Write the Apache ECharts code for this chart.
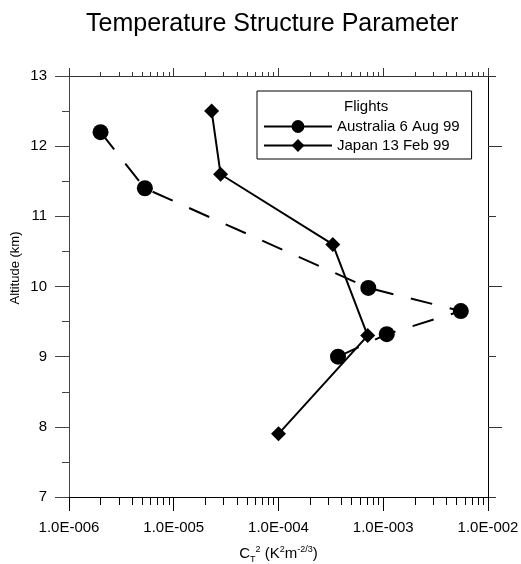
<!DOCTYPE html>
<html>
<head>
<meta charset="utf-8">
<script src="https://cdn.jsdelivr.net/npm/echarts@6/dist/echarts.min.js"></script>
<style>
html,body{margin:0;padding:0;background:#fff;}
#chart{width:521px;height:564px;}
</style>
</head>
<body>
<div id="chart"></div>
<script>
// ---- data ----
const ausX = [2.0e-6, 5.3e-6, 7.2e-4, 5.5e-3, 1.08e-3, 3.7e-4];
const ausY = [12.2, 11.4, 9.98, 9.65, 9.32, 9.0];
const japX = [2.3e-5, 2.8e-5, 3.3e-4, 7.1e-4, 1.0e-4];
const japY = [12.5, 11.6, 10.6, 9.3, 7.9];
const xTickValues = [1e-6, 1e-5, 1e-4, 1e-3, 1e-2];
const xTickLabels = ['1.0E-006', '1.0E-005', '1.0E-004', '1.0E-003', '1.0E-002'];
const yTickLabels = ['7', '8', '9', '10', '11', '12', '13'];
const rightMajorTicks = [8, 10, 12];
const seriesNames = ['Australia 6 Aug 99', 'Japan 13 Feb 99'];

const xMinor = [];
for (let d = 0; d < xTickValues.length - 1; d++) {
  for (let m = 2; m <= 9; m++) xMinor.push(xTickValues[d] * m);
}

const FONT = '"Liberation Sans", Arial, Helvetica, sans-serif';
const chart = echarts.init(document.getElementById('chart'), null, {renderer: 'canvas'});
const grid = {left: 69, right: 33, top: 76, bottom: 67, containLabel: false, outerBoundsMode: 'none'};

const baseLog = {type: 'log', logBase: 10, min: 1e-6, max: 1e-2, gridIndex: 0, splitLine: {show: false}};

const option = {
  animation: false,
  backgroundColor: '#fff',
  title: {
    text: 'Temperature Structure Parameter',
    left: 81, top: 7,
    textStyle: {fontFamily: FONT, fontSize: 25, fontWeight: 'normal', color: '#000'}
  },
  grid: grid,
  legend: {
    orient: 'vertical',
    left: 257, top: 91,
    data: seriesNames,
    borderColor: '#000', borderWidth: 1,
    padding: [28, 12, 6, 6],
    itemWidth: 68, itemHeight: 16, itemGap: 4,
    lineStyle: {type: 'solid', width: 2, color: '#000'},
    textStyle: {fontFamily: FONT, fontSize: 15, color: '#000'},
    selectedMode: false
  },
  graphic: [
    {type: 'text', left: 344, top: 99, style: {text: 'Flights', font: '15px ' + FONT, fill: '#000'}},
    {type: 'text', x: 15, y: 268, rotation: Math.PI / 2, style: {text: 'Altitude (km)', font: '13px ' + FONT, fill: '#000', textAlign: 'center', textVerticalAlign: 'middle'}}
  ],
  xAxis: [
    Object.assign({}, baseLog, {
      position: 'bottom',
      axisLine: {show: true, lineStyle: {color: '#000', width: 1}},
      axisTick: {show: true, length: 14, lineStyle: {color: '#000'}},
      axisLabel: {
        show: true, margin: 23, fontFamily: FONT, fontSize: 15, color: '#000',
        formatter: function (v) {
          const i = xTickValues.findIndex(t => Math.abs(Math.log10(t) - Math.log10(v)) < 1e-6);
          return i >= 0 ? xTickLabels[i] : '';
        }
      },
      name: '{b|C}{sub|T}{sup|2}{b| (K}{sup|2}{b|m}{sup|-2/3}{b|)}',
      nameLocation: 'middle', nameGap: 47,
      nameTextStyle: {
        fontFamily: FONT, fontSize: 15, color: '#000',
        rich: {
          b: {fontFamily: FONT, fontSize: 15, lineHeight: 20, color: '#000'},
          sub: {fontFamily: FONT, fontSize: 9, lineHeight: 20, verticalAlign: 'bottom', color: '#000'},
          sup: {fontFamily: FONT, fontSize: 9, lineHeight: 20, verticalAlign: 'top', color: '#000', padding: [1, 0, 0, 0]}
        }
      }
    }),
    Object.assign({}, baseLog, {
      position: 'bottom',
      axisLine: {show: false},
      axisTick: {show: true, length: 8, customValues: xMinor, lineStyle: {color: '#000'}},
      axisLabel: {show: false}
    }),
    Object.assign({}, baseLog, {
      position: 'top',
      axisLine: {show: true, lineStyle: {color: '#333', width: 1}},
      axisTick: {show: true, length: 8, lineStyle: {color: '#333'}},
      axisLabel: {show: false}
    }),
    Object.assign({}, baseLog, {
      position: 'top',
      axisLine: {show: false},
      axisTick: {show: true, length: 4, customValues: xMinor, lineStyle: {color: '#333'}},
      axisLabel: {show: false}
    })
  ],
  yAxis: [
    {
      type: 'value', min: 7, max: 13, interval: 1, position: 'left',
      splitLine: {show: false},
      axisLine: {show: true, lineStyle: {color: '#444', width: 1}},
      axisTick: {show: true, length: 14, lineStyle: {color: '#444'}},
      minorTick: {show: true, splitNumber: 2, length: 7, lineStyle: {color: '#444'}},
      axisLabel: {
        margin: 22, fontFamily: FONT, fontSize: 15, color: '#000',
        formatter: function (v) { return yTickLabels[Math.round(v) - 7]; }
      }
    },
    {
      type: 'value', min: 7, max: 13, interval: 1, position: 'right',
      splitLine: {show: false},
      axisLine: {show: true, lineStyle: {color: '#000', width: 1}},
      axisTick: {show: true, length: 8, lineStyle: {color: '#333'}},
      axisLabel: {show: false}
    },
    {
      type: 'value', min: 7, max: 13, interval: 1, position: 'right',
      splitLine: {show: false},
      axisLine: {show: false},
      axisTick: {show: true, length: 14, customValues: rightMajorTicks, lineStyle: {color: '#333'}},
      axisLabel: {show: false}
    }
  ],
  series: [
    {
      name: seriesNames[0], type: 'line', xAxisIndex: 0, yAxisIndex: 0,
      data: ausX.map((x, i) => [x, ausY[i]]),
      symbol: 'circle', symbolSize: 16,
      itemStyle: {color: '#000'},
      lineStyle: {color: '#000', width: 2, type: [22, 18]},
      z: 3
    },
    {
      name: seriesNames[1], type: 'line', xAxisIndex: 0, yAxisIndex: 0,
      data: japX.map((x, i) => [x, japY[i]]),
      symbol: 'diamond', symbolSize: 15,
      itemStyle: {color: '#000'},
      lineStyle: {color: '#000', width: 2, type: 'solid'},
      z: 3
    }
  ]
};
chart.setOption(option);
</script>
</body>
</html>
